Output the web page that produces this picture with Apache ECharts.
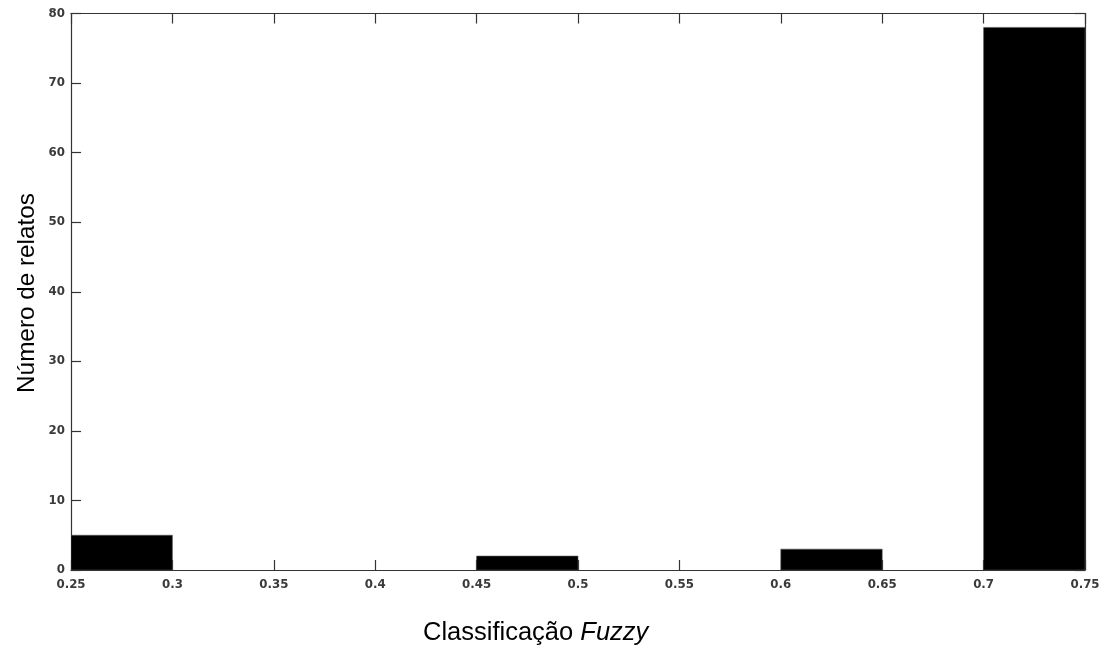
<!DOCTYPE html>
<html>
<head>
<meta charset="utf-8">
<script src="https://cdn.jsdelivr.net/npm/echarts@6/dist/echarts.min.js"></script>
<style>html,body{margin:0;padding:0;background:#fff}#c{width:1104px;height:650px}</style>
</head>
<body>
<div id="c"></div>
<script>
// Histogram bins: left edges, right edges, counts
var binStart = [0.25, 0.45, 0.60, 0.70];
var binEnd   = [0.30, 0.50, 0.65, 0.75];
var counts   = [5, 2, 3, 78];
var xTitle = 'Classificação ';
var xTitleItalic = 'Fuzzy';
var yTitle = 'Número de relatos';

var data = binStart.map(function (s, i) { return [s, binEnd[i], counts[i]]; });

var chart = echarts.init(document.getElementById('c'), null, {renderer: 'canvas'});
var lineStyle = {color: '#333', width: 1.2};
var tickLabel = {fontFamily: 'DejaVu Sans', fontWeight: 'bold', fontSize: 11.8, color: '#3a3a3a'};

chart.setOption({
  animation: false,
  backgroundColor: '#fff',
  grid: {left: 71, right: 19, top: 13.5, bottom: 80},
  xAxis: [{
    type: 'value', min: 0.25, max: 0.75, interval: 0.05,
    axisLine: {show: true, onZero: false, lineStyle: lineStyle},
    axisTick: {show: true, inside: true, length: 10, lineStyle: lineStyle},
    axisLabel: Object.assign({margin: 9, formatter: function (v) { return String(+v.toFixed(2)); }}, tickLabel),
    splitLine: {show: false}
  }, {
    type: 'value', position: 'top', min: 0.25, max: 0.75, interval: 0.05,
    axisLine: {show: true, onZero: false, lineStyle: lineStyle},
    axisTick: {show: true, inside: true, length: 10, lineStyle: lineStyle},
    axisLabel: {show: false}, splitLine: {show: false}
  }],
  yAxis: [{
    type: 'value', min: 0, max: 80, interval: 10,
    axisLine: {show: true, onZero: false, lineStyle: lineStyle},
    axisTick: {show: true, inside: true, length: 10, lineStyle: lineStyle},
    axisLabel: Object.assign({margin: 6}, tickLabel),
    splitLine: {show: false}
  }, {
    type: 'value', position: 'right', min: 0, max: 80, interval: 10,
    axisLine: {show: true, onZero: false, lineStyle: lineStyle},
    axisTick: {show: true, inside: true, length: 10, lineStyle: lineStyle},
    axisLabel: {show: false}, splitLine: {show: false}
  }],
  series: [{
    type: 'custom',
    xAxisIndex: 0, yAxisIndex: 0,
    clip: true,
    data: data,
    encode: {x: [0, 1], y: 2},
    renderItem: function (params, api) {
      var p0 = api.coord([api.value(0), api.value(2)]);
      var p1 = api.coord([api.value(1), 0]);
      return {
        type: 'rect',
        shape: {x: p0[0], y: p0[1], width: p1[0] - p0[0], height: p1[1] - p0[1]},
        style: {fill: '#000', stroke: '#555', lineWidth: 0.6}
      };
    }
  }],
  graphic: [{
    type: 'text', left: 423, top: 620,
    style: {
      text: '{a|' + xTitle + '}{b|' + xTitleItalic + '}',
      rich: {
        a: {fontFamily: 'Liberation Sans', fontSize: 25.5, fill: '#000'},
        b: {fontFamily: 'Liberation Sans', fontSize: 25.5, fontStyle: 'italic', fill: '#000'}
      }
    }
  }, {
    type: 'text', x: 27, y: 293, rotation: Math.PI / 2,
    style: {
      text: yTitle, fontFamily: 'Liberation Sans', fontSize: 24.3, fill: '#000',
      align: 'center', verticalAlign: 'middle'
    }
  }]
});
</script>
</body>
</html>
